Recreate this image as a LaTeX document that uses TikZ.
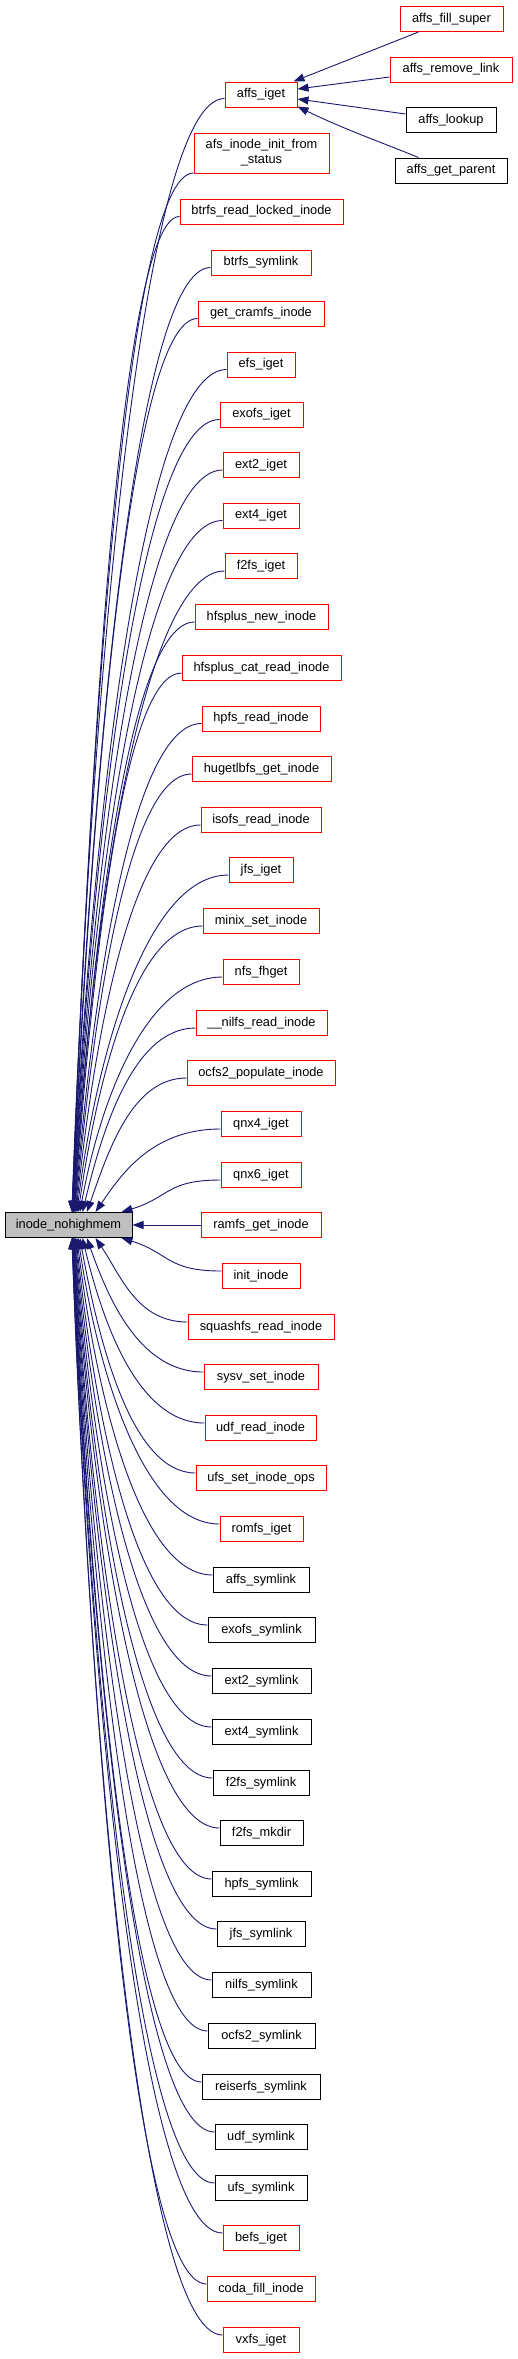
\documentclass[tikz,border=0pt]{standalone}
\usepackage{fontspec}
\setmainfont{Liberation Sans}
\usetikzlibrary{calc,arrows.meta}
\definecolor{edgec}{HTML}{191970}
\definecolor{boxred}{HTML}{FF0000}
\definecolor{mainfill}{HTML}{BFBFBF}
\begin{document}
\begin{tikzpicture}[x=1pt,y=1pt,
  box/.style={draw, line width=1pt, minimum height=25pt, inner sep=0pt,
    font=\fontsize{12.8}{15}\selectfont, align=center},
  rbox/.style={box, draw=boxred},
  kbox/.style={box, draw=black},
  edge/.style={draw=edgec, line width=0.9pt, -{Triangle[length=11pt,width=8pt]}}]
\useasboundingbox (0,0) rectangle (517,-2359);

\node[kbox, fill=mainfill, minimum width=127pt] (main) at (68.5,-1225) {inode\_nohighmem};

\node[rbox, minimum width=72pt]  (affsiget)  at (261,-94.5)   {affs\_iget};
\node[rbox, minimum width=135pt, minimum height=40pt] (afsinit) at (261.5,-153) {afs\_inode\_init\_from\\\_status};
\node[rbox, minimum width=163pt] (btrfsread) at (261.5,-211.5) {btrfs\_read\_locked\_inode};
\node[rbox, minimum width=100pt] (btrfssym)  at (261,-262.5)  {btrfs\_symlink};
\node[rbox, minimum width=126pt] (cramfs)    at (261,-313.5)  {get\_cramfs\_inode};
\node[rbox, minimum width=68pt]  (efs)       at (261,-364.5)  {efs\_iget};
\node[rbox, minimum width=83pt]  (exofs)     at (261.5,-414.5){exofs\_iget};
\node[rbox, minimum width=76pt]  (ext2)      at (261,-465)    {ext2\_iget};
\node[rbox, minimum width=76pt]  (ext4)      at (261,-515.5)  {ext4\_iget};
\node[rbox, minimum width=72pt]  (f2fs)      at (261,-566)    {f2fs\_iget};
\node[rbox, minimum width=133pt] (hfsnew)    at (261.5,-617)  {hfsplus\_new\_inode};
\node[rbox, minimum width=159pt] (hfscat)    at (261.5,-668)  {hfsplus\_cat\_read\_inode};
\node[rbox, minimum width=118pt] (hpfsread)  at (261,-718.5)  {hpfs\_read\_inode};
\node[rbox, minimum width=139pt] (hugetlb)   at (261.5,-769)  {hugetlbfs\_get\_inode};
\node[rbox, minimum width=120pt] (isofs)     at (261,-820)    {isofs\_read\_inode};
\node[rbox, minimum width=64pt]  (jfs)       at (261,-870)    {jfs\_iget};
\node[rbox, minimum width=116pt] (minix)     at (261,-921)    {minix\_set\_inode};
\node[rbox, minimum width=76pt]  (nfs)       at (261,-972)    {nfs\_fhget};
\node[rbox, minimum width=131pt] (nilfsread) at (261.5,-1023) {\_\_nilfs\_read\_inode};
\node[rbox, minimum width=148pt] (ocfs2pop)  at (261,-1073)   {ocfs2\_populate\_inode};
\node[rbox, minimum width=80pt]  (qnx4)      at (261,-1124)   {qnx4\_iget};
\node[rbox, minimum width=80pt]  (qnx6)      at (261,-1175)   {qnx6\_iget};
\node[rbox, minimum width=120pt] (ramfs)     at (261,-1225)   {ramfs\_get\_inode};
\node[rbox, minimum width=78pt]  (init)      at (261,-1276)   {init\_inode};
\node[rbox, minimum width=146pt] (squashfs)  at (261,-1327)   {squashfs\_read\_inode};
\node[rbox, minimum width=114pt] (sysv)      at (261,-1377)   {sysv\_set\_inode};
\node[rbox, minimum width=111pt] (udfread)   at (260.5,-1428) {udf\_read\_inode};
\node[rbox, minimum width=130pt] (ufsset)    at (261,-1478)   {ufs\_set\_inode\_ops};
\node[rbox, minimum width=83pt]  (romfs)     at (261.5,-1529) {romfs\_iget};
\node[kbox, minimum width=96pt]  (affssym)   at (261,-1580)   {affs\_symlink};
\node[kbox, minimum width=107pt] (exofssym)  at (261.5,-1630) {exofs\_symlink};
\node[kbox, minimum width=99pt]  (ext2sym)   at (261.5,-1681) {ext2\_symlink};
\node[kbox, minimum width=99pt]  (ext4sym)   at (261.5,-1732) {ext4\_symlink};
\node[kbox, minimum width=96pt]  (f2fssym)   at (261,-1783)   {f2fs\_symlink};
\node[kbox, minimum width=83pt]  (f2fsmkdir) at (261.5,-1833) {f2fs\_mkdir};
\node[kbox, minimum width=99pt]  (hpfssym)   at (261.5,-1884) {hpfs\_symlink};
\node[kbox, minimum width=88pt]  (jfssym)    at (261,-1934)   {jfs\_symlink};
\node[kbox, minimum width=99pt]  (nilfssym)  at (261.5,-1985) {nilfs\_symlink};
\node[kbox, minimum width=107pt] (ocfs2sym)  at (261.5,-2036) {ocfs2\_symlink};
\node[kbox, minimum width=118pt] (reisersym) at (261,-2087)   {reiserfs\_symlink};
\node[kbox, minimum width=92pt]  (udfsym)    at (261,-2137)   {udf\_symlink};
\node[kbox, minimum width=92pt]  (ufssym)    at (261,-2188)   {ufs\_symlink};
\node[rbox, minimum width=76pt]  (befs)      at (261,-2238)   {befs\_iget};
\node[rbox, minimum width=108pt] (coda)      at (261,-2289)   {coda\_fill\_inode};
\node[rbox, minimum width=76pt]  (vxfs)      at (261,-2340)   {vxfs\_iget};

\node[rbox, minimum width=103pt] (fillsuper) at (451.5,-19)   {affs\_fill\_super};
\node[rbox, minimum width=122pt] (removelink) at (451,-69.5)  {affs\_remove\_link};
\node[kbox, minimum width=90pt]  (lookup)    at (451,-120)    {affs\_lookup};
\node[kbox, minimum width=112pt] (getparent) at (451,-170.5)  {affs\_get\_parent};

% callers above
\foreach \nm/\kk/\oo in {affsiget/22/4, afsinit/21/20, btrfsread/20/5, btrfssym/19/5,
  cramfs/18/5, efs/17/5, exofs/16/5, ext2/15/5, ext4/14/5, f2fs/13/5, hfsnew/12/5,
  hfscat/11/5, hpfsread/10/5, hugetlb/9/5, isofs/8/5, jfs/7/5, minix/6/5, nfs/5/5,
  nilfsread/4/5, ocfs2pop/3/5, qnx4/2/5, qnx6/1/5} {
  \draw[edge] let \p1=(\nm.west), \p2=(main.north west),
    \n1={\x2+65pt+52pt/\kk}, \n2={\y1-\oo*1pt}, \n3={\n2-\y2}, \n4={18pt+30pt/(\kk*\kk)}
    in (\x1,\n2) .. controls ({\x1-0.55*(\x1-\n1)},\n2) and ({\n1+\n4},{\y2+0.45*\n3}) .. (\n1,\y2);
}
% callers below
\foreach \nm/\kk/\oo in {init/1/5, squashfs/2/5, sysv/3/5, udfread/4/5, ufsset/5/5,
  romfs/6/5, affssym/7/5, exofssym/8/5, ext2sym/9/5, ext4sym/10/5, f2fssym/11/5,
  f2fsmkdir/12/5, hpfssym/13/5, jfssym/14/5, nilfssym/15/5, ocfs2sym/16/5,
  reisersym/17/5, udfsym/18/5, ufssym/19/5, befs/20/5, coda/21/5, vxfs/22/5} {
  \draw[edge] let \p1=(\nm.west), \p2=(main.south west),
    \n1={\x2+65pt+52pt/\kk}, \n2={\y1+\oo*1pt}, \n3={\y2-\n2}, \n4={18pt+30pt/(\kk*\kk)}
    in (\x1,\n2) .. controls ({\x1-0.55*(\x1-\n1)},\n2) and ({\n1+\n4},{\y2-0.45*\n3}) .. (\n1,\y2);
}
\draw[edge] (ramfs.west) -- (main.east);

% callers of affs_iget
\draw[edge] ($(fillsuper.south west)+(19,0)$) -- ($(affsiget.north east)+(-4,0)$);
\draw[edge] ($(removelink.west)+(0,-7.5)$) -- ($(affsiget.east)+(0,5.5)$);
\draw[edge] ($(lookup.west)+(0,6)$) -- ($(affsiget.east)+(0,-4.5)$);
\draw[edge] ($(getparent.north west)+(24,0)$) .. controls ($(getparent.north west)+(-10,14)$) and ($(getparent.north west)+(-50,28)$) .. ($(affsiget.south east)+(0,1)$);
\end{tikzpicture}
\end{document}
